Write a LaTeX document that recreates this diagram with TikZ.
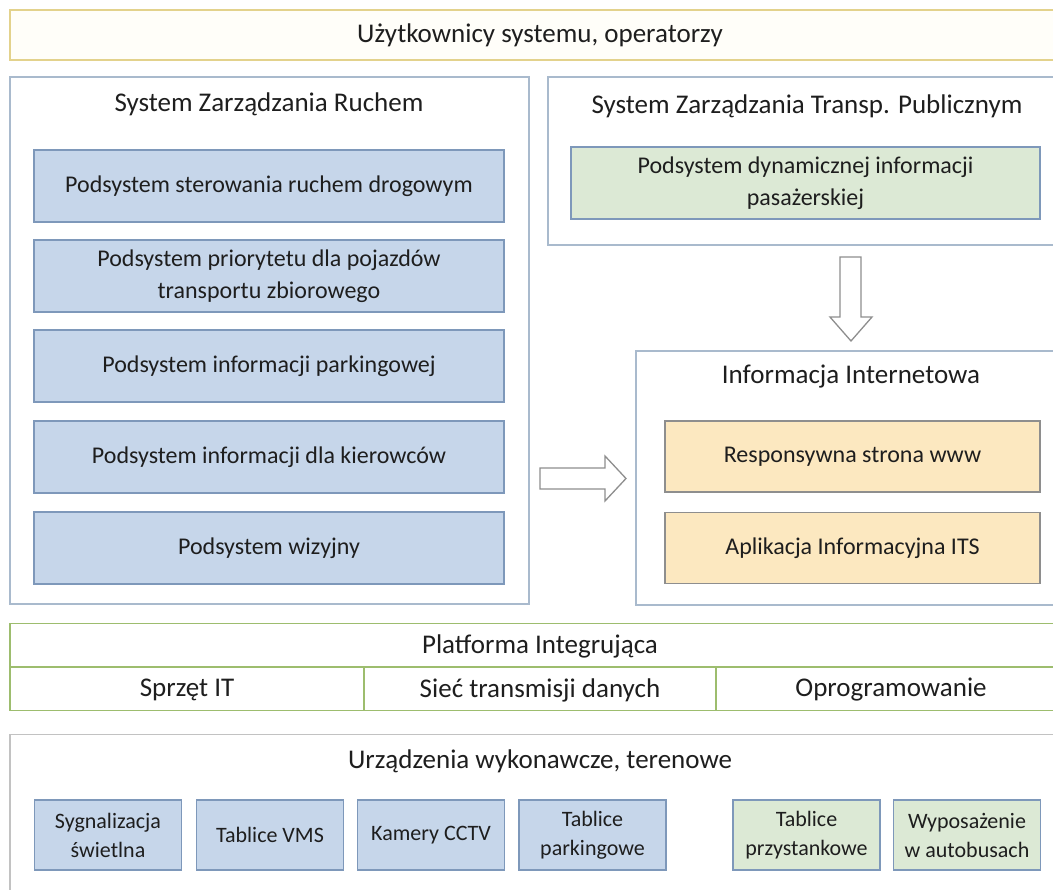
\documentclass[tikz,border=0pt]{standalone}
\usepackage{fontspec}
\setmainfont{Carlito}
\definecolor{txt}{HTML}{1E1E1E}
\definecolor{topborder}{HTML}{E3D28C}
\definecolor{topfill}{HTML}{FFFEF9}
\definecolor{panelborder}{HTML}{A9BACD}
\definecolor{bluefill}{HTML}{C6D6EA}
\definecolor{blueborder}{HTML}{7E98BA}
\definecolor{greenfill}{HTML}{DCE9D5}
\definecolor{orangefill}{HTML}{FCE8C0}
\definecolor{orangeborder}{HTML}{8E8E8E}
\definecolor{platborder}{HTML}{9DBD6E}
\definecolor{botborder}{HTML}{C2C2C2}
\definecolor{arrowcol}{HTML}{8E8E8E}
\tikzset{
  every node/.style={text=txt, inner sep=0pt},
  bigtxt/.style={font=\fontsize{27}{32}\selectfont},
  midtxt/.style={font=\fontsize{24}{32}\selectfont, align=center},
  smalltxt/.style={font=\fontsize{22}{29}\selectfont, align=center},
  panel/.style={draw=panelborder, line width=1.3pt, fill=white, rectangle},
  bluebox/.style={draw=blueborder, line width=1.3pt, fill=bluefill, rectangle, midtxt},
  greenbox/.style={draw=blueborder, line width=1.3pt, fill=greenfill, rectangle, midtxt},
  orangebox/.style={draw=orangeborder, line width=1.3pt, fill=orangefill, rectangle, midtxt},
  blockarrow/.style={draw=arrowcol, line width=1.3pt, fill=white, line join=miter},
}
\begin{document}
\begin{tikzpicture}[x=1pt,y=-1pt]
\useasboundingbox[fill=white] (0,0) rectangle (1053,890);

% top users bar
\node[draw=topborder, line width=1.5pt, fill=topfill, minimum width=1060, minimum height=50, bigtxt] (users) at (540,35) {Użytkownicy systemu, operatorzy};

% left panel
\node[panel, minimum width=519, minimum height=527] (szr) at (269.5,340.5) {};
\node[bigtxt] (szrt) at (269,104) {System Zarządzania Ruchem};
\node[bluebox, minimum width=470, minimum height=72] (b1) at (269,186) {Podsystem sterowania ruchem drogowym};
\node[bluebox, minimum width=470, minimum height=72] (b2) at (269,276) {Podsystem priorytetu dla pojazdów\\transportu zbiorowego};
\node[bluebox, minimum width=470, minimum height=72] (b3) at (269,366) {Podsystem informacji parkingowej};
\node[bluebox, minimum width=470, minimum height=72] (b4) at (269,457) {Podsystem informacji dla kierowców};
\node[bluebox, minimum width=470, minimum height=72] (b5) at (269,548) {Podsystem wizyjny};

% right top panel
\node[panel, minimum width=518, minimum height=168] (sztp) at (807,161) {};
\node[bigtxt] (sztpt) at (807,106) {System Zarządzania Transp. Publicznym};
\node[greenbox, minimum width=469, minimum height=72] (g1) at (805.5,183) {Podsystem dynamicznej informacji\\pasażerskiej};

% info panel
\node[panel, minimum width=430, minimum height=254] (info) at (851,478) {};
\node[bigtxt] (infot) at (851,377) {Informacja Internetowa};
\node[orangebox, minimum width=375, minimum height=71] (o1) at (852.5,456.5) {Responsywna strona www};
\node[orangebox, minimum width=375, minimum height=71] (o2) at (852.5,548) {Aplikacja Informacyjna ITS};

% block arrows
\draw[blockarrow] (840,257) -- (861,257) -- (861,317) -- (872,317) -- (851,341) -- (830,317) -- (840,317) -- cycle;
\draw[blockarrow] (540,468) -- (605,468) -- (605,456) -- (626,478.5) -- (605,501) -- (605,489) -- (540,489) -- cycle;

% platform
\node[draw=platborder, line width=1.3pt, fill=white, minimum width=1060, minimum height=87] (plat) at (540,667) {};
\draw[draw=platborder, line width=1.3pt] (plat.west) -- (plat.east);
\coordinate (d1a) at (364,667); \coordinate (d1b) at (364,710.5);
\coordinate (d2a) at (716,667); \coordinate (d2b) at (716,710.5);
\draw[draw=platborder, line width=1.3pt] (d1a) -- (d1b) (d2a) -- (d2b);
\node[bigtxt] (platt) at (540,646) {Platforma Integrująca};
\node[bigtxt] (p1) at (187,690) {Sprzęt IT};
\node[bigtxt] (p2) at (540,690) {Sieć transmisji danych};
\node[bigtxt] (p3) at (891,690) {Oprogramowanie};

% bottom devices
\node[draw=botborder, line width=1.3pt, fill=white, minimum width=1060, minimum height=180, anchor=north] (dev) at (540,734) {};
\node[bigtxt] (devt) at (540,761) {Urządzenia wykonawcze, terenowe};
\node[bluebox, smalltxt, minimum width=147, minimum height=70] (u1) at (108,835) {Sygnalizacja\\świetlna};
\node[bluebox, smalltxt, minimum width=147, minimum height=70] (u2) at (270,835) {Tablice VMS};
\node[bluebox, smalltxt, minimum width=147, minimum height=70] (u3) at (431,835) {Kamery CCTV};
\node[bluebox, smalltxt, minimum width=147, minimum height=70] (u4) at (592.5,835) {Tablice\\parkingowe};
\node[greenbox, smalltxt, minimum width=147, minimum height=70] (u5) at (806.5,835) {Tablice\\przystankowe};
\node[greenbox, smalltxt, minimum width=147, minimum height=70] (u6) at (967,835) {Wyposażenie\\w autobusach};
\end{tikzpicture}
\end{document}
